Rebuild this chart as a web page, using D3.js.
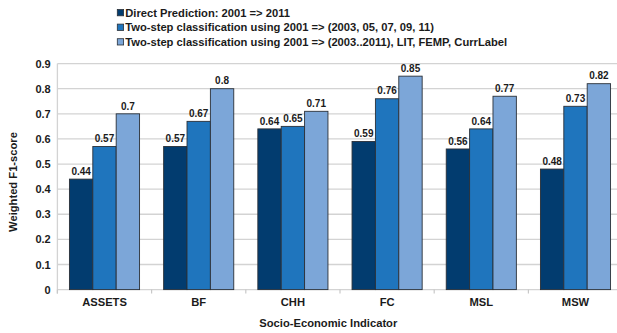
<!DOCTYPE html>
<html><head><meta charset="utf-8">
<script src="https://cdn.jsdelivr.net/npm/d3@7/dist/d3.min.js"></script>
<style>
body{margin:0;background:#fff;}
svg{display:block;font-family:"Liberation Sans",Arial,sans-serif;font-weight:bold;}
</style></head>
<body>
<svg id="c" width="617" height="333"></svg>
<script>
const categories = ["ASSETS","BF","CHH","FC","MSL","MSW"];
const seriesNames = [
  "Direct Prediction: 2001 => 2011",
  "Two-step classification using 2001 => (2003, 05, 07, 09, 11)",
  "Two-step classification using 2001 => (2003..2011), LIT, FEMP, CurrLabel"
];
const directPrediction = [0.44,0.57,0.64,0.59,0.56,0.48];
const twoStepYears = [0.57,0.67,0.65,0.76,0.64,0.73];
const twoStepFull = [0.7,0.8,0.71,0.85,0.77,0.82];
const yTicks = [0,0.1,0.2,0.3,0.4,0.5,0.6,0.7,0.8,0.9];
const colors = ["#023c6f","#1f75bd","#7ca6d8"];

const series = [directPrediction, twoStepYears, twoStepFull];
const svg = d3.select("#c");
const pL = 57.4, pR = 622.6, pT = 63.6, pB = 289.6;

const x = d3.scaleBand().domain(categories).range([pL,pR]).paddingInner(0).paddingOuter(0);
const inner = d3.scaleBand().domain(d3.range(series.length)).range([0,x.bandwidth()]).paddingInner(0).paddingOuter(0.515);
const y = d3.scaleLinear().domain([0,0.9]).range([pB,pT]);
const txt = "#1b1b1b";

// gridlines
svg.append("g").selectAll("line").data(yTicks).join("line")
  .attr("x1",pL).attr("x2",pR)
  .attr("y1",d=>y(d)).attr("y2",d=>y(d))
  .attr("stroke","#d3d3d3").attr("stroke-width",1.3);

// left axis line
svg.append("line").attr("x1",pL).attr("x2",pL).attr("y1",pT).attr("y2",pB+4)
  .attr("stroke","#d3d3d3").attr("stroke-width",1.3);

// x boundary ticks
const bounds = categories.map(c=>x(c)).concat([pR]);
svg.append("g").selectAll("line").data(bounds).join("line")
  .attr("x1",d=>d).attr("x2",d=>d).attr("y1",pB).attr("y2",pB+4)
  .attr("stroke","#c8c8c8").attr("stroke-width",1.2);

// y tick labels
const yAxis = d3.axisLeft(y).tickValues(yTicks).tickSize(0).tickPadding(6.7).tickFormat(d3.format("~g"));
const ya = svg.append("g").attr("transform",`translate(${pL},0)`).call(yAxis);
ya.select(".domain").remove();
ya.selectAll("text").attr("font-size","11px").attr("font-weight","bold").attr("fill",txt)
  .attr("font-family","Liberation Sans, Arial, sans-serif");

// x labels
const xAxis = d3.axisBottom(x).tickSize(0).tickPadding(8);
const xa = svg.append("g").attr("transform",`translate(0,${pB})`).call(xAxis);
xa.select(".domain").remove();
xa.selectAll("text").attr("font-size","11.2px").attr("font-weight","bold").attr("fill",txt)
  .attr("font-family","Liberation Sans, Arial, sans-serif");

// bars
series.forEach((vals,si)=>{
  const g = svg.append("g");
  g.selectAll("rect").data(vals).join("rect")
    .attr("x",(d,i)=>x(categories[i])+inner(si))
    .attr("y",d=>y(d))
    .attr("width",inner.bandwidth())
    .attr("height",d=>y(0)-y(d))
    .attr("fill",colors[si])
    .attr("stroke","#2a3038").attr("stroke-width",0.9);
  g.selectAll("text").data(vals).join("text")
    .attr("x",(d,i)=>x(categories[i])+inner(si)+inner.bandwidth()/2)
    .attr("y",d=>y(d)-4.3)
    .attr("text-anchor","middle")
    .attr("font-size","10px").attr("fill",txt)
    .text(d=>d3.format("~g")(d));
});

// axis titles
svg.append("text").attr("x",328.3).attr("y",326.7).attr("text-anchor","middle")
  .attr("font-size","11.2px").attr("fill",txt).text("Socio-Economic Indicator");
svg.append("text").attr("transform","translate(17.3,182) rotate(-90)").attr("text-anchor","middle")
  .attr("font-size","11.2px").attr("fill",txt).text("Weighted F1-score");

// legend
const lg = svg.append("g");
seriesNames.forEach((n,i)=>{
  const yy = 12.7 + i*14.6;
  lg.append("rect").attr("x",117.3).attr("y",yy-3.2).attr("width",6.3).attr("height",6.3)
    .attr("fill",colors[i]).attr("stroke","#2a3038").attr("stroke-width",0.8);
  lg.append("text").attr("x",125.2).attr("y",yy+3.9).attr("font-size","11.2px").attr("fill",txt).text(n);
});
</script>
</body></html>
